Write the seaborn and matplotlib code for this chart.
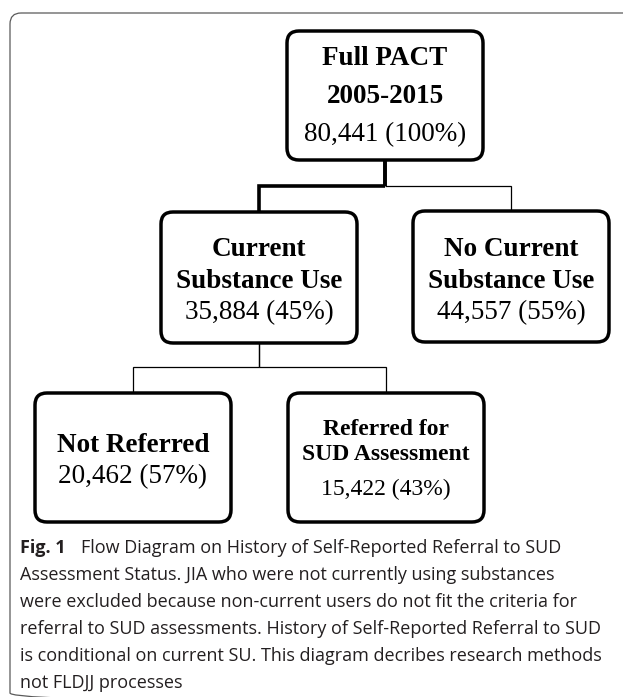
"""
Flow diagram: history of self-reported referral to SUD assessment.
Boxes drawn as rounded patches on a pixel-sized axes, caption below.
"""

import matplotlib
matplotlib.use("Agg")
import matplotlib.pyplot as plt
from matplotlib.patches import FancyBboxPatch
import seaborn as sns

# Data ----------------------------
titles = ["Full PACT\n2005-2015", "Current\nSubstance Use", "No Current\nSubstance Use",
          "Not Referred", "Referred for\nSUD Assessment"]
counts = [80441, 35884, 44557, 20462, 15422]
percents = [100, 45, 55, 57, 43]
parents = [None, 0, 0, 1, 1]

caption_head = "Fig. 1"
caption_lines = [
    "Flow Diagram on History of Self-Reported Referral to SUD",
    "Assessment Status. JIA who were not currently using substances",
    "were excluded because non-current users do not fit the criteria for",
    "referral to SUD assessments. History of Self-Reported Referral to SUD",
    "is conditional on current SU. This diagram decribes research methods",
    "not FLDJJ processes",
]

# Layout (pixels, y downwards) ----------------------------
W, H = 623, 697
box_x = [287, 161, 413, 35, 288]
box_y = [31, 212, 211, 393, 393]
box_w = 196
box_h = [129, 131, 131, 129, 129]
title_base = [[65, 103], [256, 288], [256, 288], [452], [435, 460]]
count_base = [141, 319, 319, 483, 495]
title_size = [19.5, 19.5, 19.5, 19.5, 17]
count_size = [19.5, 19.5, 19.5, 19.5, 17]
bar_y = {0: 186, 1: 367}          # y of the horizontal connector below each parent
thick_link = {1}                  # children whose connector path is drawn thick

sns.set_theme(style="white")
plt.rcParams["font.family"] = ["Liberation Serif", "DejaVu Serif"]

fig = plt.figure(figsize=(W / 100, H / 100), dpi=100)
ax = fig.add_axes([0, 0, 1, 1])
ax.set_xlim(0, W)
ax.set_ylim(H, 0)
ax.axis("off")

# outer frame (runs off the right edge, bottom corner just visible)
ax.add_patch(FancyBboxPatch((10, 13), 660, 691, boxstyle="round,pad=0,rounding_size=11",
                            fill=False, edgecolor="#5a5a5a", lw=0.9, clip_on=True))

# boxes
for i, t in enumerate(titles):
    ax.add_patch(FancyBboxPatch((box_x[i], box_y[i]), box_w, box_h[i],
                                boxstyle="round,pad=0,rounding_size=12",
                                facecolor="white", edgecolor="black", lw=2.5, zorder=3))
    cx = box_x[i] + box_w / 2
    for line, yb in zip(t.split("\n"), title_base[i]):
        ax.text(cx, yb, line, ha="center", va="baseline", fontsize=title_size[i],
                fontweight="bold", color="black", zorder=4)
    ax.text(cx, count_base[i], f"{counts[i]:,} ({percents[i]}%)", ha="center", va="baseline",
            fontsize=count_size[i], color="black", zorder=4)

# connectors
for i, p in enumerate(parents):
    if p is None:
        continue
    px = box_x[p] + box_w / 2
    cx = box_x[i] + box_w / 2
    yb = bar_y[p]
    lw = 2.6 if i in thick_link else 0.9
    ax.plot([px, px], [box_y[p] + box_h[p], yb], color="black",
            lw=2.6 if p == 0 else 0.9, solid_capstyle="butt", zorder=2)
    ax.plot([px, cx, cx], [yb, yb, box_y[i]], color="black", lw=lw,
            solid_joinstyle="miter", solid_capstyle="butt", zorder=2)

# caption
cap_font = ["Open Sans", "DejaVu Sans"]
cap_size = 13
cap_base = 553
cap_step = 27
head = ax.text(20, cap_base, caption_head, ha="left", va="baseline", fontsize=cap_size,
               fontweight="bold", family=cap_font, color="#231f20")
fig.canvas.draw()
bb = head.get_window_extent().transformed(ax.transData.inverted())
x_after = bb.x1 + 15
for k, line in enumerate(caption_lines):
    ax.text(x_after if k == 0 else 20, cap_base + k * cap_step, line, ha="left",
            va="baseline", fontsize=cap_size, family=cap_font, color="#231f20")

plt.savefig("out.png", dpi=100)
